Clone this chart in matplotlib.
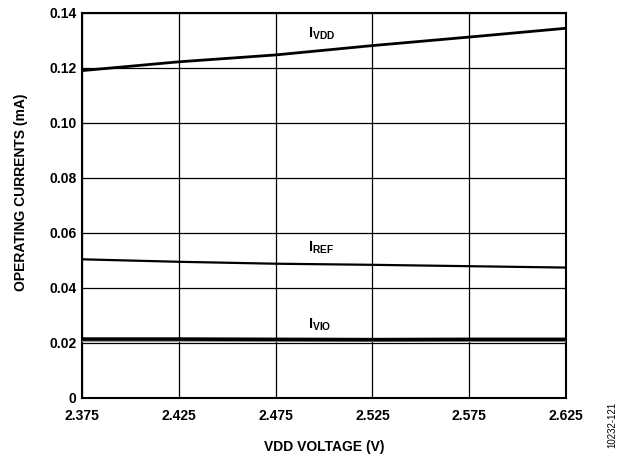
import numpy as np
import matplotlib.pyplot as plt

plt.rcParams['font.family'] = ['Liberation Sans', 'DejaVu Sans']
plt.rcParams['mathtext.fontset'] = 'custom'
plt.rcParams['mathtext.rm'] = 'Liberation Sans:bold'
plt.rcParams['mathtext.bf'] = 'Liberation Sans:bold'

vdd = [2.375, 2.425, 2.475, 2.525, 2.575, 2.625]
i_vdd = [0.1190, 0.1222, 0.1247, 0.1281, 0.1312, 0.1344]
i_ref = [0.0504, 0.0495, 0.0488, 0.0484, 0.0479, 0.0474]
i_vio = [0.0214, 0.0214, 0.0213, 0.0212, 0.0213, 0.0213]
i_vio_low = [0.0206, 0.0206, 0.0206, 0.0206, 0.0206, 0.0206]

xticks = [2.375, 2.425, 2.475, 2.525, 2.575, 2.625]
yticks = [0, 0.02, 0.04, 0.06, 0.08, 0.10, 0.12, 0.14]
ytick_labels = ['0', '0.02', '0.04', '0.06', '0.08', '0.10', '0.12', '0.14']

fig = plt.figure(figsize=(6.31, 4.59), dpi=100)
ax = fig.add_axes([0.130, 0.133, 0.767, 0.839])

ax.plot(vdd, i_vdd, color='black', lw=2.0, zorder=3)
ax.plot(vdd, i_ref, color='black', lw=1.6, zorder=3)
ax.plot(vdd, i_vio_low, color='#999999', lw=0.8, zorder=3)
ax.plot(vdd, i_vio, color='black', lw=2.6, zorder=3)

ax.set_xlim(2.375, 2.625)
ax.set_ylim(0, 0.14)
ax.set_xticks(xticks)
ax.set_xticklabels([f'{v:.3f}' for v in xticks])
ax.set_yticks(yticks)
ax.set_yticklabels(ytick_labels)
ax.grid(True, color='black', lw=0.9)
ax.set_axisbelow(True)
ax.tick_params(length=0, labelsize=10)
ax.tick_params(axis='x', pad=8)
ax.tick_params(axis='y', pad=4)
for lab in ax.get_xticklabels() + ax.get_yticklabels():
    lab.set_fontweight('bold')
for sp in ax.spines.values():
    sp.set_linewidth(1.5)

ax.set_xlabel('VDD VOLTAGE (V)', fontsize=10, fontweight='bold')
ax.set_ylabel('OPERATING CURRENTS (mA)', fontsize=10, fontweight='bold')
ax.xaxis.set_label_coords(0.5, -0.11)
ax.yaxis.set_label_coords(-0.112, 0.535)

ax.text(2.4915, 0.1326, r'I$_{\rm VDD}$', fontsize=10.5, fontweight='bold',
        ha='left', va='center')
ax.text(2.4915, 0.0545, r'I$_{\rm REF}$', fontsize=10.5, fontweight='bold',
        ha='left', va='center')
ax.text(2.4915, 0.0265, r'I$_{\rm VIO}$', fontsize=10.5, fontweight='bold',
        ha='left', va='center')

fig.text(0.970, 0.075, '10232-121', rotation=90, fontsize=7, ha='center', va='center')

fig.savefig('out.png', dpi=100)
